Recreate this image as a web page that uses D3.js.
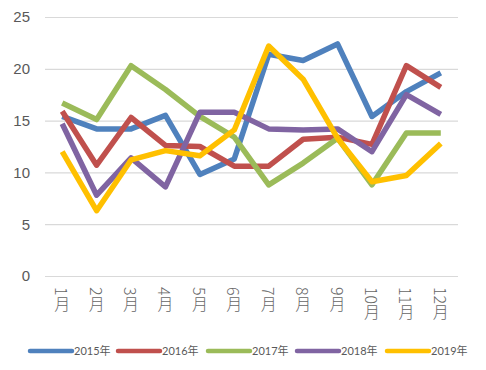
<!DOCTYPE html>
<html>
<head>
<meta charset="utf-8">
<script src="https://cdn.jsdelivr.net/npm/d3@7"></script>
<style>
  body { margin: 0; background: #fff; }
  svg { display: block; font-family: "Lato", "Noto Sans CJK SC", sans-serif; }
</style>
</head>
<body>
<div class="chart"></div>
<script>
// values
var months = ["1月", "2月", "3月", "4月", "5月", "6月", "7月", "8月", "9月", "10月", "11月", "12月"];
var seriesNames = ["2015年", "2016年", "2017年", "2018年", "2019年"];
var y2015 = [15.4, 14.2, 14.2, 15.5, 9.8, 11.3, 21.4, 20.8, 22.4, 15.4, 17.8, 19.6];
var y2016 = [15.9, 10.7, 15.3, 12.6, 12.5, 10.6, 10.6, 13.2, 13.4, 12.7, 20.3, 18.2];
var y2017 = [16.7, 15.1, 20.3, 18.0, 15.4, 13.4, 8.8, 10.9, 13.3, 8.8, 13.8, 13.8];
var y2018 = [14.7, 7.8, 11.4, 8.6, 15.8, 15.8, 14.2, 14.1, 14.2, 12.0, 17.5, 15.6];
var y2019 = [12.0, 6.3, 11.2, 12.1, 11.6, 14.1, 22.2, 19.0, 13.3, 9.1, 9.7, 12.8];
var yTicks = [0, 5, 10, 15, 20, 25];
var colours = ["#4F81BD", "#C0504D", "#9BBB59", "#8064A2", "#FFC000"];

var dataset = [y2015, y2016, y2017, y2018, y2019];

var margins = { top: 17, left: 45, right: 28, bottom: 94 };
var width = 486 - margins.left - margins.right;
var height = 370 - margins.top - margins.bottom;

var svg = d3.select('.chart')
    .append('svg')
    .attr('width', 486)
    .attr('height', 370);

var g = svg.append('g')
    .attr('transform', 'translate(' + margins.left + ',' + margins.top + ')');

var xScale = d3.scaleBand()
    .domain(months)
    .range([0, width]);

var yScale = d3.scaleLinear()
    .domain([0, 25])
    .range([height, 0]);

// gridlines + y tick labels
var yAxis = g.append('g')
    .call(d3.axisLeft(yScale).tickValues(yTicks).tickSize(-width).tickPadding(15));
yAxis.select('.domain').remove();
yAxis.selectAll('line').attr('stroke', '#d9d9d9').attr('stroke-width', 1.2);
yAxis.selectAll('text')
    .attr('fill', '#595959')
    .style('font-size', '15px');

// month labels, vertical
var xAxis = g.append('g')
    .attr('transform', 'translate(0,' + height + ')')
    .call(d3.axisBottom(xScale).tickSize(0));
xAxis.select('.domain').remove();
xAxis.selectAll('text')
    .attr('x', 0)
    .attr('y', 11)
    .attr('dy', 0)
    .attr('text-anchor', 'start')
    .attr('fill', '#666')
    .style('font-family', '"Noto Sans CJK SC", sans-serif')
    .style('font-weight', 300)
    .style('writing-mode', 'vertical-rl')
    .style('font-size', '16px');

var line = d3.line()
    .x(function (d, i) { return xScale(months[i]) + xScale.bandwidth() / 2; })
    .y(function (d) { return yScale(d); });

dataset.forEach(function (values, i) {
    g.append('path')
        .datum(values)
        .attr('fill', 'none')
        .attr('stroke', colours[i])
        .attr('stroke-width', 5.5)
        .attr('stroke-linejoin', 'round')
        .attr('stroke-linecap', 'butt')
        .attr('d', line);
});

// legend
var legendX = [30, 118, 208, 297, 387];
seriesNames.forEach(function (s, i) {
    svg.append('line')
        .attr('x1', legendX[i])
        .attr('x2', legendX[i] + 42)
        .attr('y1', 351)
        .attr('y2', 351)
        .attr('stroke', colours[i])
        .attr('stroke-width', 4.5)
        .attr('stroke-linecap', 'round');
    svg.append('text')
        .attr('x', legendX[i] + 44)
        .attr('y', 355)
        .attr('fill', '#595959')
        .style('font-size', '11px')
        .text(s);
});
</script>
</body>
</html>
